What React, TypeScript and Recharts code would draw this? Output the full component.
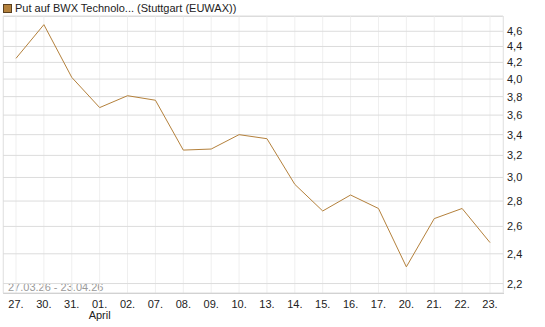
import { LineChart, Line, XAxis, YAxis, CartesianGrid } from 'recharts'

const DAYS = ['27.', '30.', '31.', '01.', '02.', '07.', '08.', '09.', '10.', '13.', '14.', '15.', '16.', '17.', '20.', '21.', '22.', '23.']
const MONTHS = ['', '', '', 'April', '', '', '', '', '', '', '', '', '', '', '', '', '', '']
const PRICES = [4.25, 4.69, 4.02, 3.68, 3.81, 3.76, 3.25, 3.26, 3.4, 3.36, 2.94, 2.72, 2.85, 2.74, 2.31, 2.66, 2.74, 2.48]
const Y_TICKS = [2.2, 2.4, 2.6, 2.8, 3.0, 3.2, 3.4, 3.6, 3.8, 4.0, 4.2, 4.4, 4.6]
const Y_DOMAIN = [2.14, 4.81]

const DATA = DAYS.map((d, i) => ({ day: d, month: MONTHS[i], price: PRICES[i] }))

const FONT = '"Liberation Sans", Arial, sans-serif'
const COLOR = '#b4813c'

function DateTick(props: any) {
  const { x, y, payload } = props
  const month = MONTHS[payload.index]
  return (
    <g>
      <text x={x} y={y} dy={13} textAnchor="middle" fontSize={11} fill="#222" fontFamily={FONT}>{payload.value}</text>
      {month && <text x={x} y={y} dy={24} textAnchor="middle" fontSize={11} fill="#222" fontFamily={FONT}>{month}</text>}
    </g>
  )
}

function PriceTick(props: any) {
  const { x, y, payload } = props
  return (
    <text x={x} y={y} dy={4} textAnchor="start" fontSize={11} fill="#222" fontFamily={FONT}>
      {Number(payload.value).toFixed(1).replace('.', ',')}
    </text>
  )
}

export default function App() {
  return (
    <div style={{ position: 'absolute', left: 0, top: 0, width: 545, height: 327, background: '#fff', fontFamily: FONT }}>
      <div style={{ position: 'absolute', left: 3, top: 2, display: 'flex', alignItems: 'center', fontSize: 11, color: '#222' }}>
        <span style={{ display: 'inline-block', width: 7, height: 7, background: COLOR, border: '1px solid #5a4020', marginRight: 3 }} />
        <span>Put auf BWX Technolo... (Stuttgart (EUWAX))</span>
      </div>
      <div style={{ position: 'absolute', left: 3, top: 16, width: 499, height: 276, border: '1px solid #dcdcdc', borderBottomColor: '#c8c8c8' }} />
      <div style={{ position: 'absolute', left: 8, top: 281, fontSize: 11, color: '#9a9a9a' }}>27.03.26 - 23.04.26</div>
      <LineChart width={545} height={327} data={DATA} margin={{ top: 16, right: 0, bottom: 0, left: 3 }}>
        <CartesianGrid horizontal={false} stroke="#efefef" />
        <CartesianGrid vertical={false} stroke="#dcdcdc" />
        <XAxis
          dataKey="day"
          padding={{ left: 13, right: 13 }}
          height={34}
          tickLine={false}
          axisLine={false}
          tickSize={0}
          interval={0}
          tick={<DateTick />}
        />
        <YAxis
          type="number"
          orientation="right"
          scale="log"
          domain={Y_DOMAIN}
          ticks={Y_TICKS}
          interval={0}
          width={42}
          tickLine={false}
          axisLine={false}
          tickSize={0}
          tickMargin={4}
          tick={<PriceTick />}
        />
        <Line type="linear" dataKey="price" stroke={COLOR} strokeWidth={1} dot={false} isAnimationActive={false} />
      </LineChart>
    </div>
  )
}
